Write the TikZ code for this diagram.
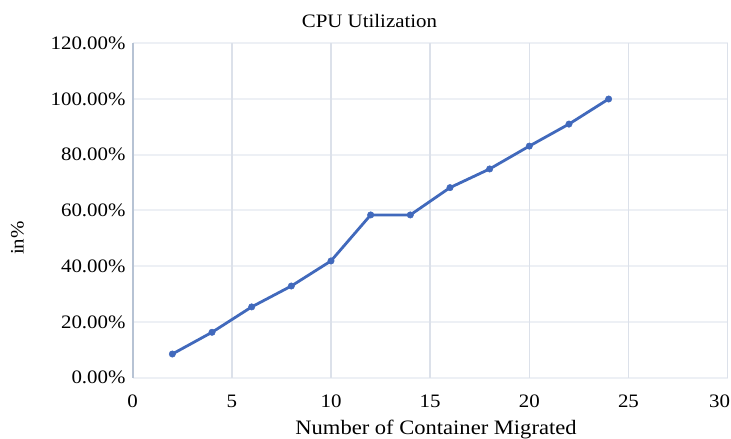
\documentclass[tikz,border=0pt]{standalone}
\usepackage{fontspec}
\setmainfont{Liberation Serif}[FakeStretch=1.1]
\definecolor{series}{HTML}{4169BC}
\definecolor{vgrid}{HTML}{DCE1EA}
\definecolor{hgrid}{HTML}{EDF0F5}
\definecolor{axisline}{HTML}{B7C3D4}
\tikzset{
  ticklab/.style={font=\fontsize{19}{22}\selectfont, inner sep=0pt},
  axlab/.style={font=\fontsize{20.5}{24}\selectfont, inner sep=0pt},
  marker/.style={circle, fill=series, draw=series, inner sep=0pt, minimum size=6.5pt},
  seriesline/.style={series, line width=2.8pt, line join=round, line cap=round},
}
\begin{document}
\begin{tikzpicture}[x=1pt, y=-1pt]
  \useasboundingbox (0,0) rectangle (731,439);
  \fill[white] (0,0) rectangle (731,439);
  % plot area: origin at (132.7,377.7), one x unit = 19.83pt, one percent = 2.787pt
  \begin{scope}[shift={(132.7,377.7)}, x=19.83pt, y=2.787pt]
    % horizontal grid
    \foreach \p in {20,40,...,120}
      \draw[hgrid, line width=2pt] (0,\p) -- (30,\p);
    \draw[hgrid, line width=2pt] (0,0) -- (30,0);
    % vertical grid
    \foreach \u in {5,10,...,30}
      \draw[vgrid, line width=1.6pt] (\u,0) -- (\u,120);
    % value axis
    \draw[axisline, line width=2pt] (0,0) -- (0,120);
    % tick labels
    \foreach \p/\t in {0/0.00\%,20/20.00\%,40/40.00\%,60/60.00\%,80/80.00\%,100/100.00\%,120/120.00\%}
      \node[ticklab, anchor=east] (yl\p) at ([xshift=-7pt]0,\p) {\t};
    \foreach \u in {0,5,...,25}
      \node[ticklab] (xl\u) at ([yshift=-23.5pt]\u,0) {\u};
    % the last label is pulled in so it stays inside the page
    \node[ticklab] (xl30) at ([xshift=-8pt, yshift=-23.5pt]30,0) {30};
    % data series
    \foreach \u/\p [count=\i] in {2/8.5,4/16.3,6/25.4,8/32.9,10/41.9,12/58.4,14/58.4,16/68.2,18/74.9,20/83.1,22/91,24/100}
      \coordinate (d\i) at (\u,\p);
    \draw[seriesline] (d1) -- (d2) -- (d3) -- (d4) -- (d5) -- (d6) -- (d7) -- (d8) -- (d9) -- (d10) -- (d11) -- (d12);
    \foreach \i in {1,...,12}
      \node[marker] (m\i) at (d\i) {};
  \end{scope}
  % titles
  \node[ticklab] (title) at (369.5,21.5) {CPU Utilization};
  \node[axlab, anchor=base] (xtitle) at (436,434.5) {Number of Container Migrated};
  \node[ticklab, rotate=90] (ytitle) at (17.5,238) {in\%};
\end{tikzpicture}
\end{document}
